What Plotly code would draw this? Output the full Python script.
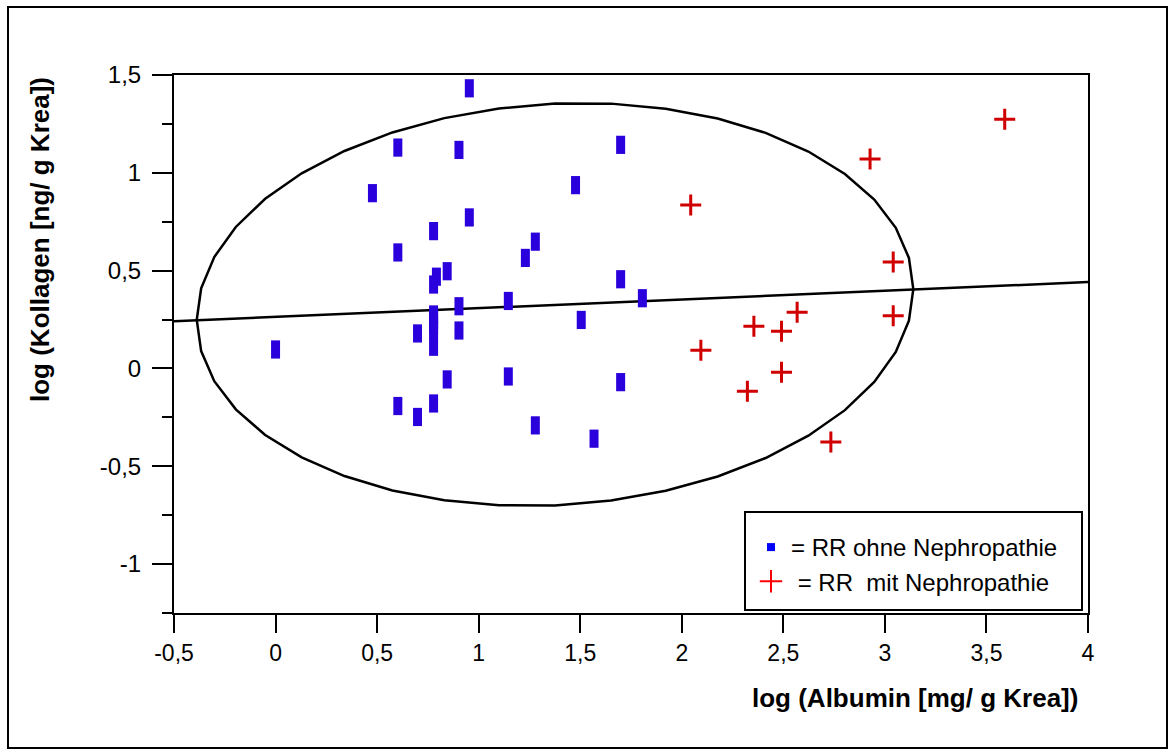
import numpy as np
import plotly.graph_objects as go

# ---- data ----
ohne_x = [0.954, 0.602, 0.903, 1.699, 0.477, 1.477, 0.954, 0.778, 0.602, 1.279,
          1.230, 0.845, 0.792, 0.778, 1.699, 1.806, 0.903, 1.146, 0.778, 0.778,
          0.778, 0.778, 0.699, 0.903, 1.505, 0.000, 0.778, 0.845, 1.146, 1.699,
          0.602, 0.778, 0.699, 1.279, 1.568]
ohne_y = [1.432, 1.129, 1.117, 1.143, 0.896, 0.937, 0.772, 0.702, 0.593, 0.648,
          0.565, 0.497, 0.469, 0.429, 0.456, 0.359, 0.318, 0.345, 0.276, 0.250,
          0.222, 0.196, 0.179, 0.194, 0.248, 0.097, 0.111, -0.056, -0.041, -0.070,
          -0.192, -0.179, -0.248, -0.291, -0.359]

mit_x = [2.927, 2.044, 3.041, 3.041, 2.568, 2.355, 2.491, 2.094, 2.491, 2.323, 2.734, 3.590]
mit_y = [1.070, 0.835, 0.544, 0.270, 0.287, 0.216, 0.190, 0.093, -0.019, -0.117, -0.376, 1.274]

reg_x = [-0.5, 4.0]
reg_y = [0.2414, 0.4416]

ell_center_x = 1.376
ell_center_y = 0.327
ell_semi_x = 1.764
ell_semi_y = 1.027
ell_shear = 0.0445
ell_segments = 40

x_tickvals = [-0.5, 0, 0.5, 1, 1.5, 2, 2.5, 3, 3.5, 4]
x_ticktext = ["-0,5", "0", "0,5", "1", "1,5", "2", "2,5", "3", "3,5", "4"]
y_tickvals = [-1, -0.5, 0, 0.5, 1, 1.5]
y_ticktext = ["-1", "-0,5", "0", "0,5", "1", "1,5"]

legend_ohne = "= RR ohne Nephropathie"
legend_mit = "\u00a0= RR\u00a0 mit Nephropathie"
x_title = "log (Albumin [mg/ g Krea])"
y_title = "log (Kollagen [ng/ g Krea])"

# ---- ellipse outline (polygon) ----
t = np.linspace(0, 2 * np.pi, ell_segments + 1)
ell_x = ell_center_x + ell_semi_x * np.cos(t)
ell_y = ell_center_y + ell_shear * ell_semi_x * np.cos(t) + ell_semi_y * np.sin(t)

FONT = "Liberation Sans, Arial, Helvetica, sans-serif"
BLUE = "#2a00dc"
RED = "#d00000"

fig = go.Figure()

fig.add_trace(go.Scatter(x=ell_x, y=ell_y, mode="lines",
                         line=dict(color="black", width=2.5), showlegend=False, hoverinfo="skip"))
fig.add_trace(go.Scatter(x=reg_x, y=reg_y, mode="lines",
                         line=dict(color="black", width=2.5), showlegend=False, hoverinfo="skip"))

fig.add_trace(go.Scatter(x=ohne_x, y=ohne_y, mode="markers", showlegend=False,
                         marker=dict(symbol="line-ns", size=13, color=BLUE,
                                     line=dict(color=BLUE, width=9))))
fig.add_trace(go.Scatter(x=mit_x, y=mit_y, mode="markers", showlegend=False,
                         marker=dict(symbol="cross-thin", size=15, color=RED,
                                     line=dict(color=RED, width=3))))

# legend entries
fig.add_trace(go.Scatter(x=[None], y=[None], mode="markers", name=legend_ohne,
                         legendgroup="a",
                         marker=dict(symbol="square", size=8, color="#0000ff",
                                     line=dict(width=0))))
fig.add_trace(go.Scatter(x=[None], y=[None], mode="markers", name=legend_mit,
                         legendgroup="b",
                         marker=dict(symbol="cross-thin", size=16, color="#ff0000",
                                     line=dict(color="#ff0000", width=2))))

L, R, T, B = 174, 88, 75, 143
W, H = 1176, 756
pw = W - L - R
ph = H - T - B

def px(xp):
    return (xp - L) / pw

def py(yp):
    return (H - B - yp) / ph

fig.update_layout(
    width=W, height=H,
    margin=dict(l=L, r=R, t=T, b=B),
    paper_bgcolor="white", plot_bgcolor="white",
    font=dict(family=FONT, size=24, color="black"),
    showlegend=True,
    legend=dict(x=px(751), y=py(525), xanchor="left", yanchor="top",
                bgcolor="rgba(0,0,0,0)", borderwidth=0,
                font=dict(family=FONT, size=24, color="black"),
                traceorder="grouped", tracegroupgap=0),
    xaxis=dict(range=[-0.5, 4.0], tickmode="array", tickvals=x_tickvals, ticktext=x_ticktext,
               ticks="outside", ticklen=18, tickwidth=2, tickcolor="black",
               showline=True, linecolor="black", linewidth=2, mirror=True,
               showgrid=False, zeroline=False,
               tickfont=dict(family=FONT, size=23)),
    yaxis=dict(range=[-1.25, 1.5], tickmode="array", tickvals=y_tickvals, ticktext=y_ticktext,
               ticks="outside", ticklen=20, tickwidth=2, tickcolor="black",
               ticklabelstandoff=6,
               minor=dict(dtick=0.25, tick0=0, ticks="outside", ticklen=10, tickwidth=2,
                          tickcolor="black", showgrid=False),
               showline=True, linecolor="black", linewidth=2, mirror=True,
               showgrid=False, zeroline=False,
               tickfont=dict(family=FONT, size=24)),
    shapes=[
        dict(type="rect", xref="paper", yref="paper",
             x0=px(8), x1=px(1167), y0=py(748), y1=py(7),
             line=dict(color="black", width=2), fillcolor="rgba(0,0,0,0)", layer="below"),
        dict(type="rect", xref="paper", yref="paper",
             x0=px(745), x1=px(1082), y0=py(610), y1=py(512),
             line=dict(color="black", width=2), fillcolor="white", layer="below"),
    ],
    annotations=[
        dict(text="<b>" + x_title + "</b>", xref="paper", yref="paper",
             x=px(1080), y=py(698), xanchor="right", yanchor="middle", showarrow=False,
             font=dict(family=FONT, size=26, color="black")),
        dict(text="<b>" + y_title + "</b>", xref="paper", yref="paper",
             x=px(40), y=py(240), xanchor="center", yanchor="middle", showarrow=False,
             textangle=-90, font=dict(family=FONT, size=26, color="black")),
    ],
)

fig.write_html("out.html")
